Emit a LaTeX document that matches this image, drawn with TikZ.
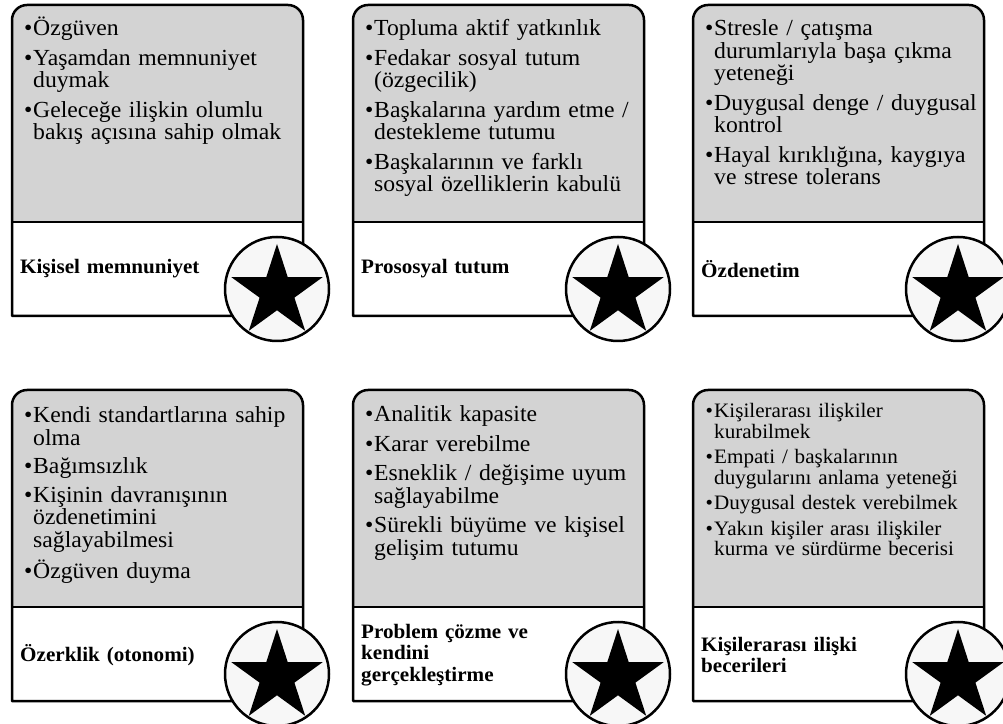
\documentclass[tikz,border=0pt]{standalone}
\usepackage{fontspec}
\setmainfont{Liberation Serif}
\newfontfamily\cardfont{Liberation Serif}[FakeStretch=1.03]

\definecolor{cardgray}{RGB}{211,211,211}
\definecolor{badgefill}{RGB}{247,247,247}

% bullet item with hanging indent
\newcommand\bitem{\hangindent=10pt\hangafter=1\makebox[10pt][c]{\textbullet}}
\newcommand\nitem{\par\bitem}

\tikzset{
  cardline/.style={line width=2.5pt, line join=round},
  itemgap/.style={execute at begin node={\setlength{\parskip}{#1}}},
  listtext/.style={anchor=base west, inner sep=0pt, text width=286pt, align=left,
    font=\cardfont\fontsize{23}{22.5}\selectfont, itemgap=7pt},
  smalllist/.style={listtext, font=\cardfont\fontsize{20.5}{20.2}\selectfont},
  cardlabel/.style={anchor=west, inner sep=0pt, text width=200pt, align=left,
    font=\cardfont\bfseries\fontsize{20.5}{21.5}\selectfont},
  card/.pic={
    \fill[white] (0,0) rectangle (291,94);
    \fill[cardgray] (0,94) -- (0,296) arc[start angle=180, end angle=90, radius=15pt]
      -- (276,311) arc[start angle=90, end angle=0, radius=15pt] -- (291,94) -- cycle;
    \draw[cardline] (0,0) -- (0,296) arc[start angle=180, end angle=90, radius=15pt]
      -- (276,311) arc[start angle=90, end angle=0, radius=15pt] -- (291,0) -- cycle;
    \draw[cardline] (0,94) -- (291,94);
  },
  badge/.pic={
    \draw[line width=2.5pt, fill=badgefill] (0,0) circle[radius=52pt];
    \begin{scope}[yshift=-3pt]
      \fill[black] (90:48pt) -- (126:18.3pt) -- (162:48pt) -- (198:18.3pt)
        -- (234:48pt) -- (270:18.3pt) -- (306:48pt) -- (342:18.3pt)
        -- (18:48pt) -- (54:18.3pt) -- cycle;
    \end{scope}
  }
}

\begin{document}
\begin{tikzpicture}[x=1pt, y=1pt]
\useasboundingbox (0,0) rectangle (1003,723);

% cards: bottom-left corners
\pic (c1) at (12,407)  {card};
\pic (c2) at (353,407) {card};
\pic (c3) at (693,407) {card};
\pic (c4) at (12,22)   {card};
\pic (c5) at (353,22)  {card};
\pic (c6) at (693,22)  {card};

% bullet lists
\node[listtext] (t1) at (23,687) {%
  \bitem Özgüven
  \nitem Yaşamdan memnuniyet\newline duymak
  \nitem Geleceğe ilişkin olumlu\newline bakış açısına sahip olmak\par};
\node[listtext] (t2) at (364,687) {%
  \bitem Topluma aktif yatkınlık
  \nitem Fedakar sosyal tutum\newline (özgecilik)
  \nitem Başkalarına yardım etme /\newline destekleme tutumu
  \nitem Başkalarının ve farklı\newline sosyal özelliklerin kabulü\par};
\node[listtext] (t3) at (704,687) {%
  \bitem Stresle / çatışma\newline durumlarıyla başa çıkma\newline yeteneği
  \nitem Duygusal denge / duygusal\newline kontrol
  \nitem Hayal kırıklığına, kaygıya\newline ve strese tolerans\par};
\node[listtext, itemgap=6pt] (t4) at (23,300) {%
  \bitem Kendi standartlarına sahip\newline olma
  \nitem Bağımsızlık
  \nitem Kişinin davranışının\newline özdenetimini\newline sağlayabilmesi
  \nitem Özgüven duyma\par};
\node[listtext] (t5) at (364,301) {%
  \bitem Analitik kapasite
  \nitem Karar verebilme
  \nitem Esneklik / değişime uyum\newline sağlayabilme
  \nitem Sürekli büyüme ve kişisel\newline gelişim tutumu\par};
\node[smalllist, itemgap=5.5pt] (t6) at (704,305) {%
  \bitem Kişilerarası ilişkiler\newline kurabilmek
  \nitem Empati / başkalarının\newline duygularını anlama yeteneği
  \nitem Duygusal destek verebilmek
  \nitem Yakın kişiler arası ilişkiler\newline kurma ve sürdürme becerisi\par};

% category labels
\node[cardlabel] (l1) at (20,454)  {Kişisel memnuniyet};
\node[cardlabel] (l2) at (361,454) {Prososyal tutum};
\node[cardlabel] (l3) at (701,454) {Özdenetim};
\node[cardlabel] (l4) at (20,68)   {Özerklik (otonomi)};
\node[cardlabel] (l5) at (361,68)  {Problem çözme ve\\kendini\\gerçekleştirme};
\node[cardlabel] (l6) at (701,68)  {Kişilerarası ilişki\\becerileri};

% star badges
\pic (s1) at (277,434) {badge};
\pic (s2) at (618,434) {badge};
\pic (s3) at (958,434) {badge};
\pic (s4) at (277,49)  {badge};
\pic (s5) at (618,49)  {badge};
\pic (s6) at (958,49)  {badge};
\end{tikzpicture}
\end{document}
